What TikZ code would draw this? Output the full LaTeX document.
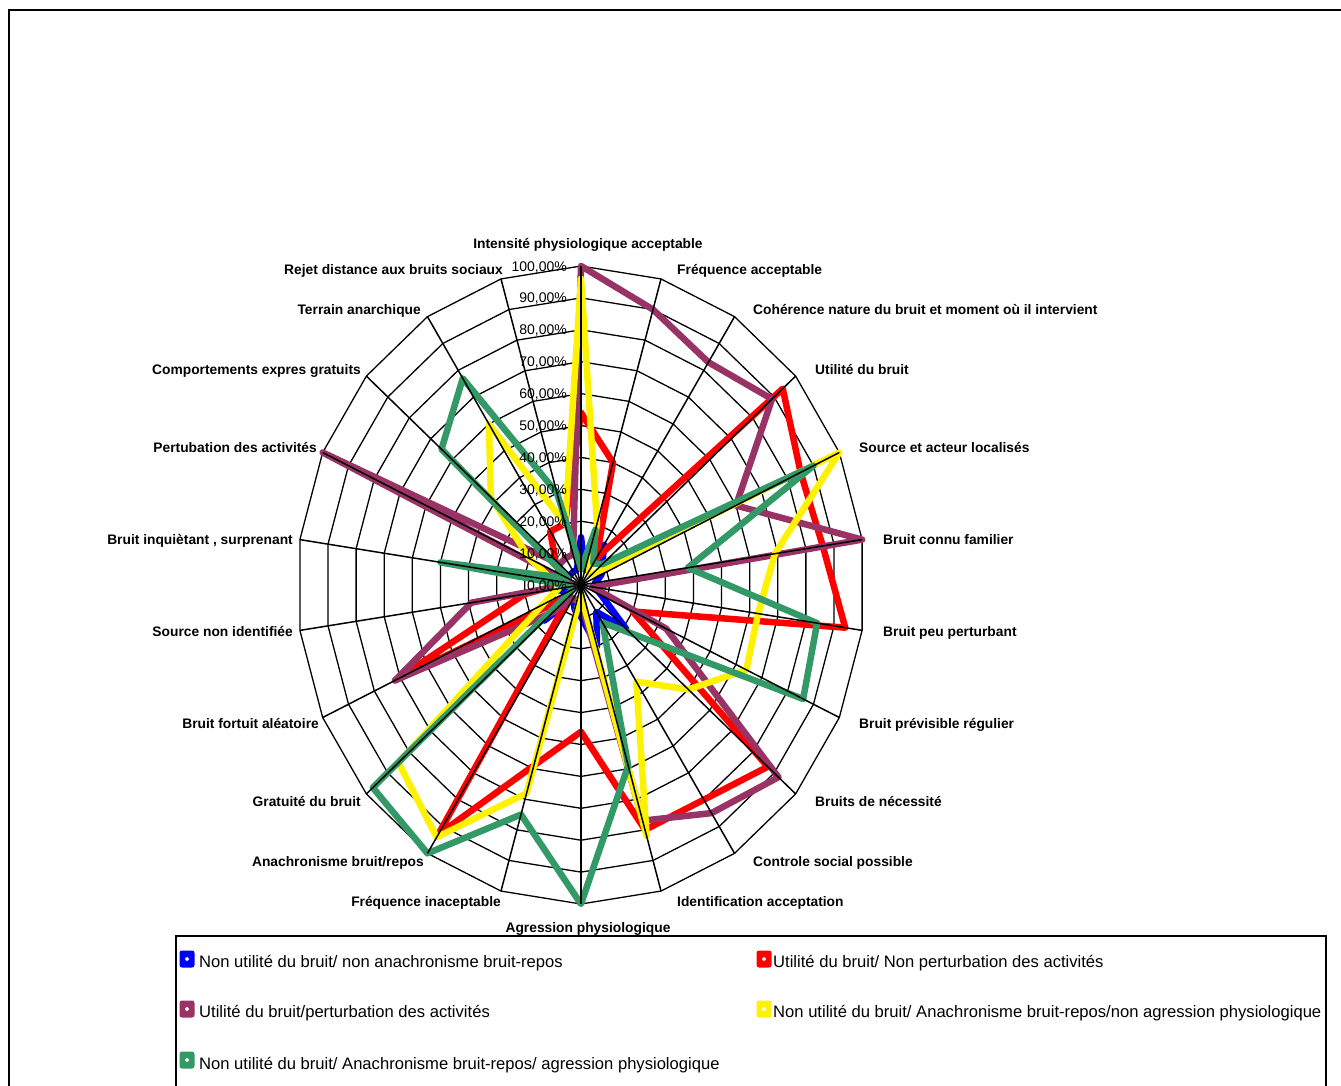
\documentclass[tikz,border=0pt]{standalone}
\usepackage{fontspec}
\setmainfont{Liberation Sans}
\definecolor{plum}{HTML}{993366}
\definecolor{seagreen}{HTML}{339966}
\tikzset{
  gridring/.style={black,line width=1.3pt},
  axisspoke/.style={black,line width=1.5pt},
  radarline/.style={line width=6.5pt,line join=round,line cap=round},
  catlabel/.style={font=\bfseries\fontsize{13.8}{16}\selectfont,inner sep=0pt},
  ticklabel/.style={font=\fontsize{14}{16}\selectfont,inner sep=0pt,anchor=base east},
  keytext/.style={font=\fontsize{16.6}{19}\selectfont,inner sep=0pt,anchor=west},
  keybox/.style={fill=#1,rounded corners=2.5pt,minimum width=15pt,minimum height=17pt,inner sep=0pt,
    path picture={\fill[white] ([shift={(-2pt,-2pt)}]path picture bounding box.center) rectangle ++(4pt,4pt);}}
}
\begin{document}
\begin{tikzpicture}[x=1pt,y=-1pt]
\clip (0,0) rectangle (1341,1086);
\fill[white] (0,0) rectangle (1341,1086);
\draw[line width=2pt] (9,1095) -- (9,10) -- (1350,10);
\begin{scope}[shift={(581,585)},x=2.84pt,y=3.19pt]
  \foreach \r in {10,20,...,100}
    \draw[gridring] (90:\r) \foreach \k in {1,...,21} {-- ({90-\k*360/22}:\r)} -- cycle;
  \draw[radarline,blue] (90:15) \foreach \v [count=\k] in {5,15,10,8,5,5,8,21,10,20,10,8,5,17,5,10,5,5,5,5,5} {-- ({90-\k*360/22}:\v)} -- cycle;
  \draw[radarline,red] (90:54) \foreach \v [count=\k] in {40,10,94,85,86,94,20,87,80,80,46,59,93,5,72,20,5,8,12,20,20} {-- ({90-\k*360/22}:\v)} -- cycle;
  \draw[radarline,plum] (90:100) \foreach \v [count=\k] in {90,83,89,60,100,4,33,92,85,77,5,5,5,13,72,39,3,100,10,10,10} {-- ({90-\k*360/22}:\v)} -- cycle;
  \draw[radarline,yellow] (90:96) \foreach \v [count=\k] in {20,5,5,100,69,63,64,50,36,82,3,68,94,85,15,8,10,20,42,60,20} {-- ({90-\k*360/22}:\v)} -- cycle;
  \draw[radarline,seagreen] (90:5) \foreach \v [count=\k] in {18,8,10,90,38,84,86,23,14,59,100,75,100,97,3,3,50,5,65,77,30} {-- ({90-\k*360/22}:\v)} -- cycle;
  \foreach \k in {0,...,21}
    \draw[axisspoke] (0,0) -- ({90-\k*360/22}:100);
  \foreach \r in {0,10,...,100}
    \node[ticklabel,xshift=-14pt,yshift=-5pt] (t\r) at (0,\r) {\r,00\%};
\end{scope}
\node[catlabel,anchor=base] (c0) at (588,248) {Intensité physiologique acceptable};
\node[catlabel,anchor=base west] (c1) at (677,274) {Fréquence acceptable};
\node[catlabel,anchor=base west] (c2) at (753,314) {Cohérence nature du bruit et moment où il intervient};
\node[catlabel,anchor=base west] (c3) at (815,374) {Utilité du bruit};
\node[catlabel,anchor=base west] (c4) at (859,452) {Source et acteur localisés};
\node[catlabel,anchor=base west] (c5) at (883,544) {Bruit connu familier};
\node[catlabel,anchor=base west] (c6) at (883,636) {Bruit peu perturbant};
\node[catlabel,anchor=base west] (c7) at (859,728) {Bruit prévisible régulier};
\node[catlabel,anchor=base west] (c8) at (815,806) {Bruits de nécessité};
\node[catlabel,anchor=base west] (c9) at (753,866) {Controle social possible};
\node[catlabel,anchor=base west] (c10) at (677,906) {Identification acceptation};
\node[catlabel,anchor=base] (c11) at (588,932) {Agression physiologique};
\node[catlabel,anchor=base east] (c12) at (501,906) {Fréquence inaceptable};
\node[catlabel,anchor=base east] (c13) at (424,866) {Anachronisme bruit/repos};
\node[catlabel,anchor=base east] (c14) at (361,806) {Gratuité du bruit};
\node[catlabel,anchor=base east] (c15) at (319,728) {Bruit fortuit aléatoire};
\node[catlabel,anchor=base east] (c16) at (293,636) {Source non identifiée};
\node[catlabel,anchor=base east] (c17) at (293,544) {Bruit inquiètant , surprenant};
\node[catlabel,anchor=base east] (c18) at (317,452) {Pertubation des activités};
\node[catlabel,anchor=base east] (c19) at (361,374) {Comportements expres gratuits};
\node[catlabel,anchor=base east] (c20) at (421,314) {Terrain anarchique};
\node[catlabel,anchor=base east] (c21) at (503,274) {Rejet distance aux bruits sociaux};
\draw[line width=1.5pt] (176,1095) -- (176,936) -- (1326,936) -- (1326,1095);
\node[keybox=blue] (k1) at (187,959) {};
\node[keytext] (l1) at (199,963) {Non utilité du bruit/ non anachronisme bruit-repos};
\node[keybox=red] (k2) at (764,959) {};
\node[keytext] (l2) at (773,963) {Utilité du bruit/ Non perturbation des activités};
\node[keybox=plum] (k3) at (187,1009) {};
\node[keytext] (l3) at (199,1013) {Utilité du bruit/perturbation des activités};
\node[keybox=yellow] (k4) at (764,1009) {};
\node[keytext] (l4) at (773,1013) {Non utilité du bruit/ Anachronisme bruit-repos/non agression physiologique};
\node[keybox=seagreen] (k5) at (187,1060) {};
\node[keytext] (l5) at (199,1065) {Non utilité du bruit/ Anachronisme bruit-repos/ agression physiologique};
\end{tikzpicture}
\end{document}
